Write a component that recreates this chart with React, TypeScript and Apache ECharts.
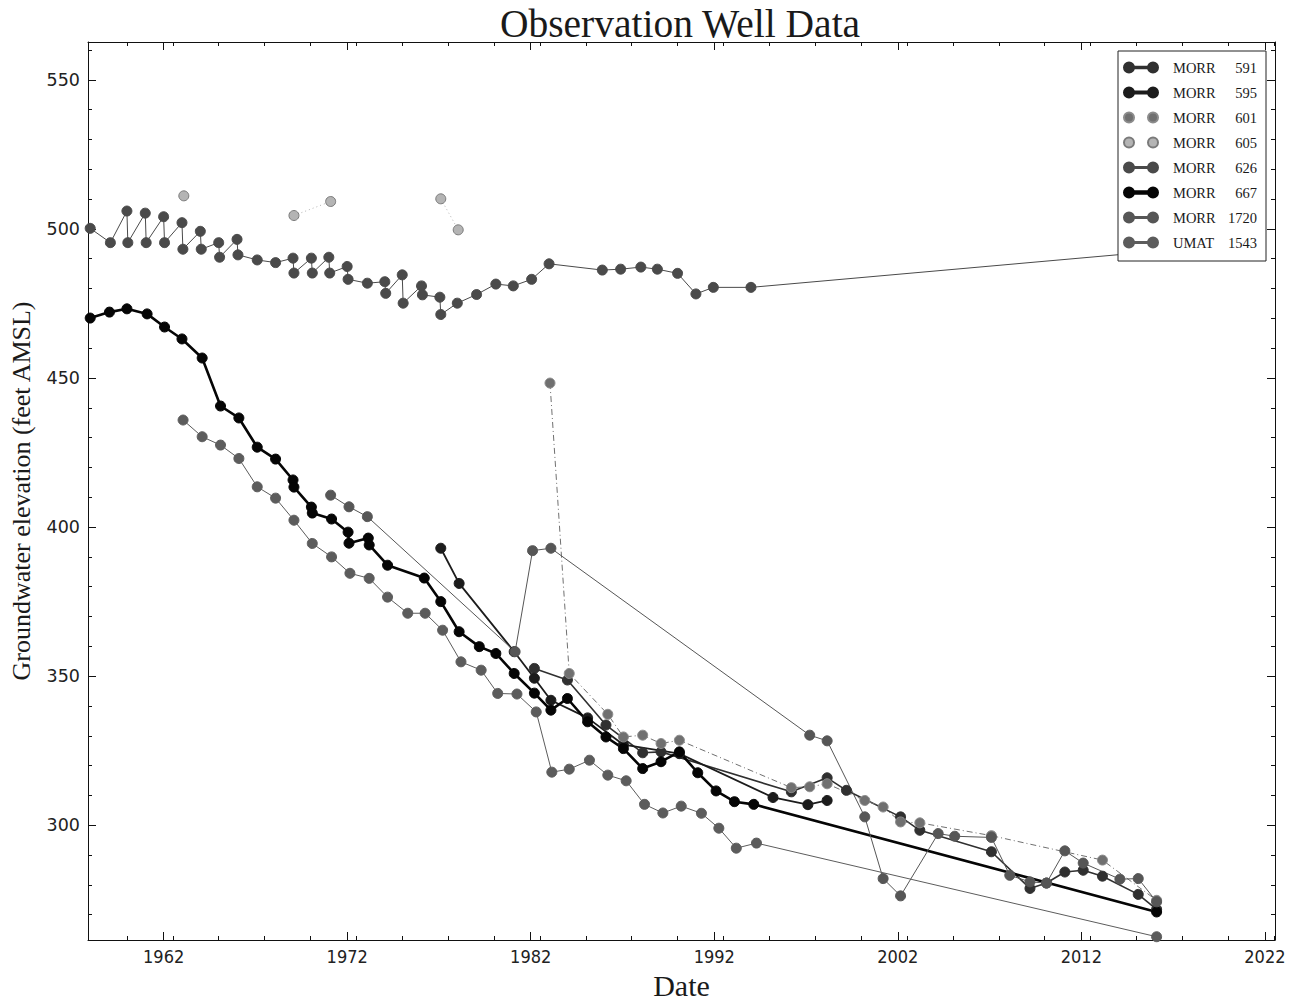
import React, { useEffect, useRef } from "react";
import * as echarts from "echarts";

// ---- axis ranges & tick labels ----
const X_MIN = 1957.88;
const X_MAX = 2022.55;
const Y_MIN = 261.5;
const Y_MAX = 562.7;
const xTickLabels = [1962, 1972, 1982, 1992, 2002, 2012, 2022];
const yTickLabels = [300, 350, 400, 450, 500, 550];

// ---- series (decimal year, feet AMSL) ----
const seriesNames = ["MORR 591", "MORR 595", "MORR 601", "MORR 605", "MORR 626", "MORR 667", "MORR 1720", "UMAT 1543"];

const morr591 = [
  [1982.2, 352.6], [1984.0, 348.7], [1986.1, 333.6], [1988.1, 324.3], [1989.1, 324.6],
  [1996.2, 311.2], [1998.15, 315.9], [1999.2, 311.7], [2002.15, 302.8], [2003.2, 298.3],
  [2007.1, 291.1], [2009.2, 278.8], [2010.1, 280.6], [2011.1, 284.3], [2012.1, 284.9],
  [2013.15, 282.9], [2015.1, 276.8], [2016.1, 271.8],
];
const morr595 = [
  [1977.1, 392.9], [1978.1, 381.1], [1981.1, 358.2], [1982.2, 349.3], [1983.1, 341.9],
  [1985.1, 336.0], [1987.05, 327.0], [1990.1, 324.0], [1995.2, 309.3], [1997.1, 306.9],
  [1998.15, 308.3],
];
const morr601 = [
  [1983.05, 448.3], [1984.1, 350.9], [1986.2, 337.2], [1987.05, 329.6], [1988.1, 330.2],
  [1989.1, 327.4], [1990.1, 328.5], [1996.2, 312.6], [1997.2, 312.9], [1998.15, 313.9],
  [2000.2, 308.3], [2001.2, 306.1], [2002.15, 301.1], [2003.2, 300.8], [2007.1, 296.5],
  [2013.15, 288.3], [2016.1, 274.8],
];
const morr605 = [
  [1963.1, 511.1], [1966, "-"], [1969.1, 504.5], [1971.1, 509.2], [1974, "-"],
  [1977.1, 510.1], [1978.05, 499.7],
];
const morr626 = [
  [1958.0, 500.2], [1959.1, 495.4], [1960.0, 506.0], [1960.05, 495.4], [1961.0, 505.3],
  [1961.05, 495.4], [1962.0, 504.1], [1962.05, 495.4], [1963.0, 502.1], [1963.05, 493.2],
  [1964.0, 499.2], [1964.05, 493.2], [1965.0, 495.4], [1965.05, 490.5], [1966.0, 496.5],
  [1966.05, 491.3], [1967.1, 489.6], [1968.1, 488.7], [1969.05, 490.2], [1969.1, 485.2],
  [1970.05, 490.2], [1970.1, 485.2], [1971.0, 490.5], [1971.05, 485.2], [1972.0, 487.4],
  [1972.05, 483.1], [1973.1, 481.8], [1974.05, 482.3], [1974.1, 478.4], [1975.0, 484.6],
  [1975.05, 475.1], [1976.05, 480.9], [1976.1, 477.9], [1977.05, 477.1], [1977.1, 471.3],
  [1978.0, 475.1], [1979.05, 478.0], [1980.1, 481.5], [1981.05, 480.9], [1982.05, 483.1],
  [1983.0, 488.3], [1985.9, 486.2], [1986.9, 486.5], [1988.0, 487.2], [1988.9, 486.5],
  [1990.0, 485.1], [1991.0, 478.2], [1991.95, 480.4], [1994.0, 480.4], [2016.1, 492.5],
];
const morr667 = [
  [1958.0, 470.1], [1959.05, 472.1], [1960.0, 473.2], [1961.1, 471.5], [1962.05, 467.1],
  [1963.0, 463.1], [1964.1, 456.7], [1965.1, 440.6], [1966.1, 436.6], [1967.1, 426.8],
  [1968.1, 422.8], [1969.05, 415.8], [1969.1, 413.4], [1970.05, 406.7], [1970.1, 404.7],
  [1971.15, 402.7], [1972.05, 398.3], [1972.1, 394.6], [1973.15, 396.3], [1973.2, 394.0],
  [1974.2, 387.2], [1976.2, 382.9], [1977.1, 375.0], [1978.1, 364.9], [1979.2, 359.9],
  [1980.1, 357.6], [1981.1, 350.9], [1982.2, 344.3], [1983.1, 338.6], [1984.0, 342.5],
  [1985.1, 334.7], [1986.1, 329.6], [1987.05, 325.7], [1988.1, 319.0], [1989.1, 321.3],
  [1990.1, 324.6], [1991.1, 317.6], [1992.1, 311.5], [1993.1, 307.9], [1994.15, 307.0],
  [2016.1, 270.9],
];
const morr1720 = [
  [1971.1, 410.7], [1972.1, 406.8], [1973.1, 403.5], [1981.15, 358.2], [1982.1, 392.1],
  [1983.1, 392.9], [1997.2, 330.2], [1998.15, 328.3], [2000.2, 302.8], [2001.2, 282.1],
  [2002.15, 276.3], [2004.2, 297.2], [2005.1, 296.3], [2007.1, 295.9], [2008.1, 283.2],
  [2009.2, 281.0], [2010.1, 280.6], [2011.1, 291.4], [2012.1, 287.3], [2014.1, 281.9],
  [2015.1, 282.1], [2016.1, 274.3],
];
const umat1543 = [
  [1963.06, 435.9], [1964.1, 430.3], [1965.1, 427.5], [1966.1, 423.0], [1967.1, 413.5],
  [1968.1, 409.7], [1969.1, 402.3], [1970.1, 394.5], [1971.15, 390.0], [1972.15, 384.5],
  [1973.2, 382.8], [1974.2, 376.5], [1975.3, 371.1], [1976.25, 371.1], [1977.2, 365.4],
  [1978.2, 354.8], [1979.3, 352.0], [1980.2, 344.2], [1981.25, 344.0], [1982.3, 338.0],
  [1983.15, 317.8], [1984.1, 318.8], [1985.2, 321.8], [1986.2, 316.8], [1987.2, 314.9],
  [1988.2, 307.0], [1989.2, 304.1], [1990.2, 306.4], [1991.3, 304.0], [1992.25, 299.0],
  [1993.2, 292.3], [1994.3, 294.0], [2016.1, 262.6],
];

const seriesData = [morr591, morr595, morr601, morr605, morr626, morr667, morr1720, umat1543];

// minor ticks (every 2.5 years / 10 feet)
const xMinor: number[] = [];
for (let v = 1957.5; v <= X_MAX; v += 2.5) {
  if (v >= X_MIN && !xTickLabels.includes(v)) xMinor.push(v);
}
const yMinor: number[] = [];
for (let v = 270; v <= 560; v += 10) {
  if (v % 50 !== 0) yMinor.push(v);
}

const styles = [
  { color: "#303030", border: "#303030", width: 1.6, type: "solid", bar: 1.6 },
  { color: "#1c1c1c", border: "#1c1c1c", width: 1.8, type: "solid", bar: 1.8 },
  { color: "#707070", border: "#8c8c8c", width: 1, type: [6, 3, 1, 3], bar: 0 },
  { color: "#b4b4b4", border: "#7a7a7a", width: 1, type: [1, 3], bar: 0 },
  { color: "#4a4a4a", border: "#4a4a4a", width: 1, type: "solid", bar: 1.2 },
  { color: "#050505", border: "#050505", width: 2.6, type: "solid", bar: 2.6 },
  { color: "#565656", border: "#565656", width: 1, type: "solid", bar: 1.2 },
  { color: "#5c5c5c", border: "#5c5c5c", width: 1, type: "solid", bar: 1.2 },
];

const iconPath = (bar: number) => {
  const circles = "M0,5A5,5,0,1,1,10,5A5,5,0,1,1,0,5Z M24,5A5,5,0,1,1,34,5A5,5,0,1,1,24,5Z";
  if (bar <= 0) return "path://" + circles;
  const a = 5 - bar / 2;
  const b = 5 + bar / 2;
  return `path://${circles} M10,${a}L24,${a}L24,${b}L10,${b}Z`;
};

const SERIF = "'Liberation Serif', 'DejaVu Serif', serif";

export default function App() {
  const ref = useRef<HTMLDivElement>(null);
  useEffect(() => {
    if (!ref.current) return;
    const chart = echarts.init(ref.current, null, { renderer: "svg" });
    const axisLineStyle = { color: "#111", width: 1 };
    const tickStyle = { color: "#111", width: 1 };
    const baseX = { type: "value", min: X_MIN, max: X_MAX, gridIndex: 0, splitLine: { show: false } };
    const baseY = { type: "value", min: Y_MIN, max: Y_MAX, gridIndex: 0, splitLine: { show: false } };

    const option: any = {
      animation: false,
      backgroundColor: "#ffffff",
      grid: { left: 88, right: 30, top: 42, bottom: 65, containLabel: false },
      graphic: [
        {
          type: "text",
          x: 680,
          y: 24,
          style: {
            text: "Observation Well Data",
            fontFamily: SERIF,
            fontSize: 39.5,
            fill: "#1a1a1a",
            textAlign: "center",
            textVerticalAlign: "middle",
          },
        },
      ],
      xAxis: [
        {
          ...baseX,
          position: "bottom",
          axisLine: { show: true, lineStyle: axisLineStyle },
          axisTick: { show: true, inside: true, length: 8, customValues: xTickLabels, lineStyle: tickStyle },
          axisLabel: {
            show: true,
            customValues: xTickLabels,
            formatter: (v: number) => String(Math.round(v)),
            fontFamily: "'DejaVu Sans Condensed', 'DejaVu Sans', sans-serif",
            fontSize: 18,
            color: "#222",
            margin: 7,
          },
          name: "Date",
          nameLocation: "middle",
          nameGap: 30,
          nameTextStyle: { fontFamily: SERIF, fontSize: 30, color: "#1a1a1a" },
        },
        {
          ...baseX,
          position: "bottom",
          axisLine: { show: false },
          axisTick: { show: true, inside: true, length: 4, customValues: xMinor, lineStyle: tickStyle },
          axisLabel: { show: false },
        },
        {
          ...baseX,
          position: "top",
          axisLine: { show: true, lineStyle: axisLineStyle },
          axisTick: { show: true, inside: true, length: 8, customValues: xTickLabels, lineStyle: tickStyle },
          axisLabel: { show: false },
        },
        {
          ...baseX,
          position: "top",
          axisLine: { show: false },
          axisTick: { show: true, inside: true, length: 4, customValues: xMinor, lineStyle: tickStyle },
          axisLabel: { show: false },
        },
      ],
      yAxis: [
        {
          ...baseY,
          position: "left",
          axisLine: { show: true, lineStyle: axisLineStyle },
          axisTick: { show: true, inside: true, length: 8, customValues: yTickLabels, lineStyle: tickStyle },
          axisLabel: {
            show: true,
            customValues: yTickLabels,
            formatter: (v: number) => String(Math.round(v)),
            fontFamily: "'DejaVu Sans', sans-serif",
            fontSize: 17.5,
            color: "#222",
            margin: 8,
          },
          name: "Groundwater elevation (feet AMSL)",
          nameLocation: "middle",
          nameGap: 54,
          nameRotate: 90,
          nameTextStyle: { fontFamily: SERIF, fontSize: 26, color: "#1a1a1a" },
        },
        {
          ...baseY,
          position: "left",
          axisLine: { show: false },
          axisTick: { show: true, inside: true, length: 4, customValues: yMinor, lineStyle: tickStyle },
          axisLabel: { show: false },
        },
        {
          ...baseY,
          position: "right",
          axisLine: { show: true, lineStyle: axisLineStyle },
          axisTick: { show: true, inside: true, length: 8, customValues: yTickLabels, lineStyle: tickStyle },
          axisLabel: { show: false },
        },
        {
          ...baseY,
          position: "right",
          axisLine: { show: false },
          axisTick: { show: true, inside: true, length: 4, customValues: yMinor, lineStyle: tickStyle },
          axisLabel: { show: false },
        },
      ],
      legend: {
        show: true,
        orient: "vertical",
        left: 1118,
        top: 51,
        padding: [9, 9, 11, 5],
        itemWidth: 34,
        itemHeight: 10,
        itemGap: 10,
        backgroundColor: "#ffffff",
        borderColor: "#222",
        borderWidth: 1,
        borderRadius: 0,
        selectedMode: false,
        z: 10,
        data: seriesNames.map((n, i) => ({ name: n, icon: iconPath(styles[i].bar) })),
        formatter: (name: string) => {
          const parts = name.split(" ");
          return `{s|}{a|${parts[0]}}{b|${parts[1]}}`;
        },
        textStyle: {
          fontFamily: SERIF,
          fontSize: 14.5,
          color: "#1a1a1a",
          lineHeight: 14,
          rich: {
            s: { width: 10, lineHeight: 14 },
            a: { width: 48, fontFamily: SERIF, fontSize: 14.5, color: "#1a1a1a", lineHeight: 14 },
            b: { width: 36, align: "right", fontFamily: SERIF, fontSize: 14.5, color: "#1a1a1a", lineHeight: 14 },
          },
        },
      },
      series: seriesNames.map((n, i) => ({
        name: n,
        type: "line",
        xAxisIndex: 0,
        yAxisIndex: 0,
        data: seriesData[i],
        symbol: "circle",
        symbolSize: 10,
        showSymbol: true,
        showAllSymbol: true,
        connectNulls: false,
        lineStyle: { color: styles[i].color, width: styles[i].width, type: styles[i].type },
        itemStyle: { color: styles[i].color, borderColor: styles[i].border, borderWidth: 1 },
        emphasis: { disabled: true },
        z: 2,
      })),
    };
    chart.setOption(option);
    return () => chart.dispose();
  }, []);
  return (
    <div
      ref={ref}
      style={{ position: "fixed", left: 0, top: 0, width: 1305, height: 1005, background: "#fff" }}
    />
  );
}
